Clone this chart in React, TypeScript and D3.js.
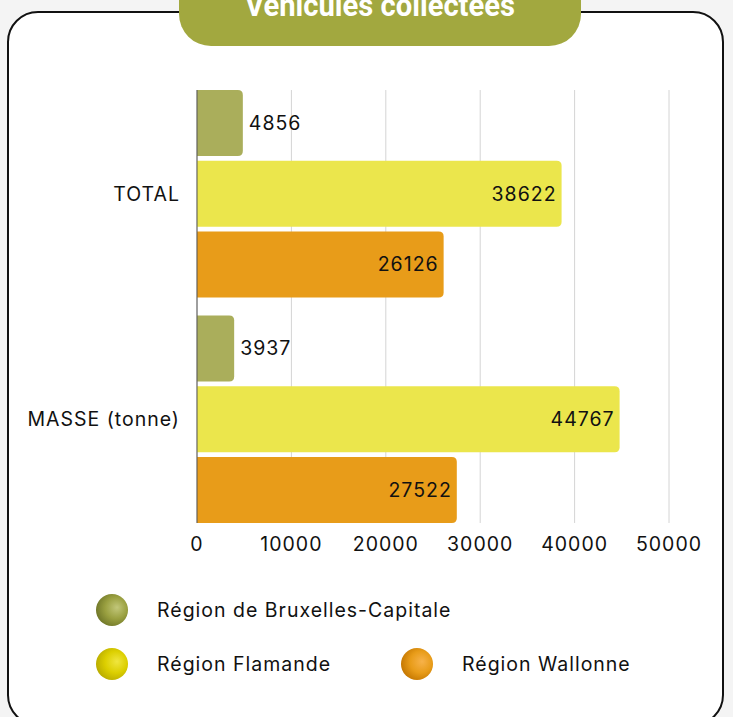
import React from "react";
import * as d3 from "d3";

const categories = ["TOTAL", "MASSE (tonne)"];
const series = ["Région de Bruxelles-Capitale", "Région Flamande", "Région Wallonne"];
const valuesBruxelles = [4856, 3937];
const valuesFlamande = [38622, 44767];
const valuesWallonne = [26126, 27522];
const xTicks = [0, 10000, 20000, 30000, 40000, 50000];
const title = "Véhicules collectées";

const colors = ["#aaae5b", "#ebe64c", "#e89c19"];
const sphereLight = ["#c2c77a", "#f0e640", "#f7b24a"];
const sphereMid = ["#9aa040", "#dccf00", "#e89c19"];
const sphereDark = ["#6f7628", "#b8ab00", "#c47600"];

const W = 733;
const H = 717;
const FONT = "Inter, sans-serif";
const FS = 19.5;
const LS = 1.0;

function barPath(x0: number, y: number, w: number, h: number, r: number) {
  const rr = Math.min(r, w / 2, h / 2);
  return `M${x0},${y}H${x0 + w - rr}Q${x0 + w},${y} ${x0 + w},${y + rr}V${y + h - rr}Q${x0 + w},${y + h} ${x0 + w - rr},${y + h}H${x0}Z`;
}

export default function App() {
  const allValues = [valuesBruxelles, valuesFlamande, valuesWallonne];
  const x = d3.scaleLinear().domain([0, 50000]).range([197, 669]);
  const y0 = d3.scaleBand<string>().domain(categories).range([81, 532]).paddingInner(0.08).paddingOuter(0.04);
  const y1 = d3.scaleBand<string>().domain(series).range([0, y0.bandwidth()]).paddingInner(0.065).paddingOuter(0);
  const gridTop = y0(categories[0])!;
  const gridBottom = y0(categories[1])! + y0.bandwidth();

  const legend = [
    { cx: 112, cy: 610, tx: 157 },
    { cx: 112, cy: 664, tx: 157 },
    { cx: 417, cy: 664, tx: 462 },
  ];

  const txt = { fontFamily: FONT, fontSize: FS, fill: "#111", letterSpacing: LS } as const;

  return (
    <svg width={W} height={H} style={{ position: "absolute", left: 0, top: 0, display: "block" }}>
      <defs>
        {series.map((s, i) => (
          <radialGradient key={s} id={`sph${i}`} cx="0.6" cy="0.45" r="0.62" fx="0.66" fy="0.42">
            <stop offset="0%" stopColor={sphereLight[i]} />
            <stop offset="55%" stopColor={sphereMid[i]} />
            <stop offset="100%" stopColor={sphereDark[i]} />
          </radialGradient>
        ))}
      </defs>
      <rect x={0} y={0} width={W} height={H} fill="#f4f4f4" />
      <rect x={8} y={12} width={715} height={713} rx={30} fill="#ffffff" stroke="#111" strokeWidth={2} />
      <rect x={179} y={-40} width={402} height={86} rx={32} fill="#a2a83f" />
      <text x={380} y={16} textAnchor="middle" fill="#fff" fontFamily="Roboto, sans-serif" fontWeight={700} fontSize={31} textLength={270} lengthAdjust="spacingAndGlyphs">
        {title}
      </text>

      {xTicks.map((t) => (
        <line key={t} x1={x(t)} x2={x(t)} y1={gridTop} y2={gridBottom} stroke="#d4d4d4" strokeWidth={1} />
      ))}

      {categories.map((c, ci) => (
        <g key={c} transform={`translate(0,${y0(c)})`}>
          {series.map((s, si) => {
            const v = allValues[si][ci];
            const by = y1(s)!;
            const bh = y1.bandwidth();
            const w = x(v) - x(0);
            const inside = w > 60;
            return (
              <g key={s}>
                <path d={barPath(x(0), by, w, bh, 5)} fill={colors[si]} />
                <text x={inside ? x(v) - 5 : x(v) + 6} y={by + bh / 2} dy="0.35em" textAnchor={inside ? "end" : "start"} {...txt}>
                  {v}
                </text>
              </g>
            );
          })}
          <text x={180} y={y0.bandwidth() / 2} dy="0.35em" textAnchor="end" {...txt}>
            {c}
          </text>
        </g>
      ))}
      <line x1={x(0)} x2={x(0)} y1={gridTop} y2={gridBottom} stroke="#555" strokeWidth={1} />

      {xTicks.map((t) => (
        <text key={t} x={x(t)} y={544} dy="0.35em" textAnchor="middle" {...txt}>
          {t}
        </text>
      ))}

      {series.map((s, i) => (
        <g key={s}>
          <circle cx={legend[i].cx} cy={legend[i].cy} r={16} fill={`url(#sph${i})`} />
          <text x={legend[i].tx} y={legend[i].cy} dy="0.35em" {...txt}>
            {s}
          </text>
        </g>
      ))}
    </svg>
  );
}
